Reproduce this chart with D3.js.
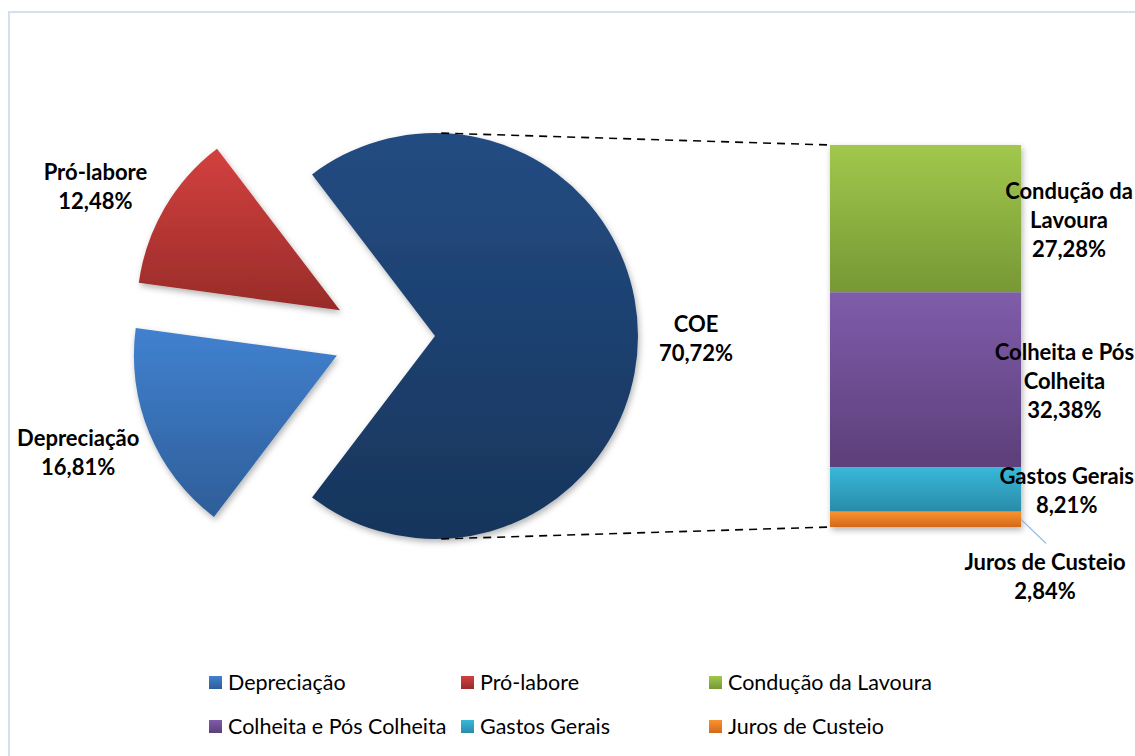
<!DOCTYPE html>
<html>
<head>
<meta charset="utf-8">
<script src="https://cdn.jsdelivr.net/npm/d3@7"></script>
<style>
  html, body { margin: 0; padding: 0; background: #fff; }
  svg { display: block; font-family: Lato, "Open Sans", sans-serif; }
</style>
</head>
<body>
<div id="chart"></div>
<script>
// pie part (COE is the slice split out into the bar)
const pieCategories = ['COE', 'Depreciação', 'Pró-labore'];
const pieValues = [70.72, 16.81, 12.48];
const pieLabelLines = [['COE'], ['Depreciação'], ['Pró-labore']];

// bar part, top to bottom
const barCategories = ['Condução da Lavoura', 'Colheita e Pós Colheita', 'Gastos Gerais', 'Juros de Custeio'];
const barValues = [27.28, 32.38, 8.21, 2.84];
const barLabelLines = [['Condução da', 'Lavoura'], ['Colheita e Pós', 'Colheita'], ['Gastos Gerais'], ['Juros de Custeio']];

const legendOrder = ['Depreciação', 'Pró-labore', 'Condução da Lavoura', 'Colheita e Pós Colheita', 'Gastos Gerais', 'Juros de Custeio'];

const colors = {
  'COE': ['#234c82', '#17355c'],
  'Depreciação': ['#4181d0', '#2e5e98'],
  'Pró-labore': ['#d3413f', '#982b29'],
  'Condução da Lavoura': ['#a1c84c', '#779835'],
  'Colheita e Pós Colheita': ['#7f5caa', '#5c3f7a'],
  'Gastos Gerais': ['#38b8da', '#2a8ba8'],
  'Juros de Custeio': ['#fa922f', '#d2691c']
};

const width = 1135;
const height = 756;
const cx = 384, cy = 336, radius = 203, explode = 51;
const barX = 830, barW = 191, barTop = 145, barBottom = 527;
const lineH = 29;
const labelSize = 22;
// small hand tweaks so the outside labels sit where Excel put them
const pieLabelNudge = { 'COE': [-7, 3], 'Depreciação': [-11, -4], 'Pró-labore': [-13, 12] };

const locale = d3.formatLocale({ decimal: ',', thousands: '.', grouping: [3], currency: ['R$', ''] });
const fmt = v => locale.format('.2f')(v) + '%';
const key = s => 'g' + s.normalize('NFD').replace(/[^A-Za-z]/g, '');

const svg = d3.select('#chart').append('svg')
  .attr('width', width)
  .attr('height', height);

const defs = svg.append('defs');
Object.entries(colors).forEach(([name, c]) => {
  const g = defs.append('linearGradient')
    .attr('id', key(name))
    .attr('x1', 0).attr('y1', 0).attr('x2', 0).attr('y2', 1);
  g.append('stop').attr('offset', '0%').attr('stop-color', c[0]);
  g.append('stop').attr('offset', '100%').attr('stop-color', c[1]);
});
defs.append('filter')
  .attr('id', 'shadow')
  .attr('x', '-10%').attr('y', '-10%').attr('width', '130%').attr('height', '130%')
  .append('feDropShadow')
  .attr('dx', 1.5).attr('dy', 3).attr('stdDeviation', 3)
  .attr('flood-color', '#000').attr('flood-opacity', 0.3);

// chart frame
svg.append('rect')
  .attr('x', 9).attr('y', 12)
  .attr('width', 1200).attr('height', 800)
  .attr('fill', 'none')
  .attr('stroke', '#d5e0ee')
  .attr('stroke-width', 2);

// ----- pie -----
const coeFrac = pieValues[0] / d3.sum(pieValues);
const start = Math.PI / 2 - coeFrac * Math.PI;
const pie = d3.pie().sort(null).startAngle(start).endAngle(start + 2 * Math.PI);
const arcs = pie(pieValues);
const arc = d3.arc().innerRadius(0).outerRadius(radius);
const offset = d => {
  const m = (d.startAngle + d.endAngle) / 2;
  return [explode * Math.sin(m), -explode * Math.cos(m)];
};

const pieG = svg.append('g').attr('transform', `translate(${cx},${cy})`);
pieG.selectAll('path.slice')
  .data(arcs)
  .join('path')
  .attr('class', 'slice')
  .attr('transform', d => `translate(${offset(d)})`)
  .attr('d', arc)
  .attr('fill', (d, i) => `url(#${key(pieCategories[i])})`)
  .attr('filter', 'url(#shadow)');

const labelR = 268;
pieG.selectAll('text.pie-label')
  .data(arcs)
  .join('text')
  .attr('class', 'pie-label')
  .attr('text-anchor', 'middle')
  .attr('font-weight', 700)
  .attr('font-size', labelSize)
  .attr('fill', '#000')
  .each(function (d, i) {
    const m = (d.startAngle + d.endAngle) / 2;
    const [ox, oy] = offset(d);
    const nudge = pieLabelNudge[pieCategories[i]];
    const x = ox + labelR * Math.sin(m) + nudge[0];
    const y = oy - labelR * Math.cos(m) + nudge[1];
    const lines = pieLabelLines[i].concat([fmt(pieValues[i])]);
    const y0 = y - (lines.length - 1) * lineH / 2 + 7;
    d3.select(this).selectAll('tspan')
      .data(lines)
      .join('tspan')
      .attr('x', x)
      .attr('y', (t, j) => y0 + j * lineH)
      .text(t => t);
  });

// ----- bar -----
const barTotal = d3.sum(barValues);
const yScale = d3.scaleLinear().domain([0, barTotal]).range([barBottom, barTop]);
// cumulative from the bottom (last category sits at the bottom)
const tops = barValues.map((v, i) => d3.sum(barValues.slice(i)));
const segs = barValues.map((v, i) => ({ name: barCategories[i], v, y0: tops[i] - v, y1: tops[i] }));

svg.append('g')
  .attr('filter', 'url(#shadow)')
  .selectAll('rect')
  .data(segs)
  .join('rect')
  .attr('x', barX)
  .attr('width', barW)
  .attr('y', d => yScale(d.y1))
  .attr('height', d => yScale(d.y0) - yScale(d.y1))
  .attr('fill', d => `url(#${key(d.name)})`);

// connector lines: tangent from bar corners to the COE circle
const coeArc = arcs[0];
const [cox, coy] = offset(coeArc);
const C = [cx + cox, cy + coy];
function tangent(q, upper) {
  const dx = q[0] - C[0], dy = q[1] - C[1];
  const dist = Math.hypot(dx, dy);
  const phi = Math.atan2(dy, dx);
  const a = Math.acos(radius / dist);
  const t = upper ? phi - a : phi + a;
  return [C[0] + radius * Math.cos(t), C[1] + radius * Math.sin(t)];
}
const connectors = [
  [tangent([barX, yScale(barTotal)], true), [barX, yScale(barTotal)]],
  [tangent([barX, yScale(0)], false), [barX, yScale(0)]]
];
svg.selectAll('line.connector')
  .data(connectors)
  .join('line')
  .attr('class', 'connector')
  .attr('x1', d => d[0][0]).attr('y1', d => d[0][1])
  .attr('x2', d => d[1][0]).attr('y2', d => d[1][1])
  .attr('stroke', '#000')
  .attr('stroke-width', 1.6)
  .attr('stroke-dasharray', '8,6');

// bar labels
const labelRight = 1134;
const barLabelX = barX + barW + 48;
const barLabels = svg.selectAll('text.bar-label')
  .data(segs)
  .join('text')
  .attr('class', 'bar-label')
  .attr('text-anchor', 'middle')
  .attr('font-weight', 700)
  .attr('font-size', labelSize)
  .attr('fill', '#000');

barLabels.each(function (d, i) {
  const lines = barLabelLines[i].concat([fmt(d.v)]);
  const node = d3.select(this);
  node.selectAll('tspan')
    .data(lines)
    .join('tspan')
    .text(t => t);
  let maxW = 0;
  node.selectAll('tspan').each(function () { maxW = Math.max(maxW, this.getComputedTextLength()); });
  const small = yScale(d.y0) - yScale(d.y1) < 20;
  let x = small ? barX + barW + 24 : barLabelX;
  x = Math.min(x, labelRight - maxW / 2);
  const yc = small ? yScale(d.y0) + 50 : (yScale(d.y0) + yScale(d.y1)) / 2 + 2;
  const y0 = yc - (lines.length - 1) * lineH / 2 + 7;
  node.selectAll('tspan')
    .attr('x', x)
    .attr('y', (t, j) => y0 + j * lineH);
  if (small) {
    const ym = (yScale(d.y0) + yScale(d.y1)) / 2;
    svg.append('line')
      .attr('x1', barX + barW).attr('y1', ym)
      .attr('x2', barX + barW + 25).attr('y2', ym + 24)
      .attr('stroke', '#8db3e2')
      .attr('stroke-width', 1.2);
  }
});

// legend
const legendCols = [209, 461, 709];
const legendRows = [683, 727];
const legend = svg.append('g').attr('class', 'legend')
  .selectAll('g')
  .data(legendOrder)
  .join('g')
  .attr('transform', (d, i) => `translate(${legendCols[i % 3]},${legendRows[Math.floor(i / 3)]})`);
legend.append('rect')
  .attr('x', 0).attr('y', -7)
  .attr('width', 13).attr('height', 13)
  .attr('fill', d => `url(#${key(d)})`);
legend.append('text')
  .attr('x', 19)
  .attr('y', 7)
  .attr('font-size', 21.5)
  .attr('fill', '#000')
  .text(d => d);
</script>
</body>
</html>
